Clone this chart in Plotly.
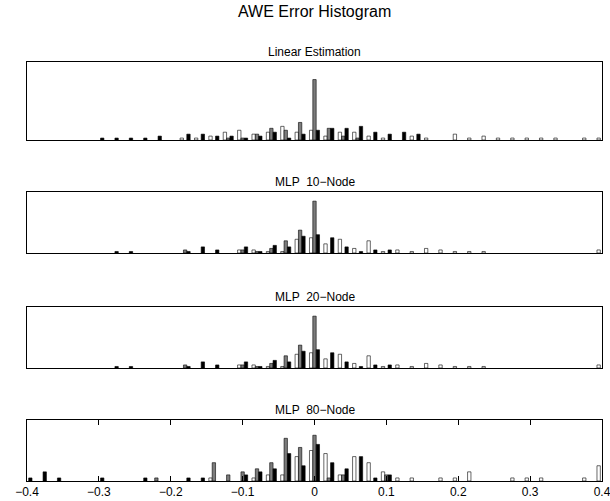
import plotly.graph_objects as go

# bin centres (error value)
bins = [-0.40, -0.38, -0.36, -0.34, -0.32, -0.30, -0.28, -0.26, -0.24, -0.22,
        -0.20, -0.18, -0.16, -0.14, -0.12, -0.10, -0.08, -0.06, -0.04, -0.02,
        0.00, 0.02, 0.04, 0.06, 0.08, 0.10, 0.12, 0.14, 0.16, 0.18,
        0.20, 0.22, 0.24, 0.26, 0.28, 0.30, 0.32, 0.34, 0.36, 0.38, 0.40]

panel_titles = ["Linear Estimation", "MLP  10\u2212Node", "MLP  20\u2212Node", "MLP  80\u2212Node"]
tick_vals = [-0.4, -0.3, -0.2, -0.1, 0, 0.1, 0.2, 0.3, 0.4]
tick_text = ["\u22120.4", "\u22120.3", "\u22120.2", "\u22120.1", "0", "0.1", "0.2", "0.3", "0.4"]

lin_white = [0,0,0,0,0,0,0,0,0,0, 0,1,1,2,4,5,3,4,7,4, 5, 2,4,4,2,1,0,2,1,0,3, 1,2,1,1,1,1,1,0,1,1]
lin_gray  = [0,0,0,0,0,0,0,0,0,0, 0,0,0,0,1,1,3,6,5,9, 31, 6,2,1,0,0,0,0,0,0,0, 0,0,0,0,0,0,0,0,0,0]
lin_black = [0,0,0,0,0,1,1,1,1,2, 0,3,3,2,2,1,2,4,1,3, 5, 6,6,7,4,3,4,3,0,0,0, 0,0,0,0,0,0,0,0,0,0]

m10_white = [0,0,0,0,0,0,0,0,0,0, 0,0,0,0,0,2,2,1,1,9, 10, 6,9,3,8,1,2,1,3,2,1, 1,1,0,0,0,0,0,0,0,2]
m10_gray  = [0,0,0,0,0,0,0,0,0,0, 0,2,0,0,0,2,1,3,8,15, 34, 0,0,0,0,0,0,0,0,0,0, 0,0,0,0,0,0,0,0,0,0]
m10_black = [0,0,0,0,0,0,1,1,0,0, 0,1,4,2,0,4,1,5,4,11, 12, 10,4,1,2,2,0,0,0,0,0, 0,0,0,0,0,0,0,0,0,0]

m20_white = [0,0,0,0,0,0,0,0,0,0, 0,0,0,0,0,2,2,1,1,9, 10, 6,9,3,8,1,2,1,3,2,1, 1,1,0,0,0,0,0,0,0,2]
m20_gray  = [0,0,0,0,0,0,0,0,0,0, 0,2,0,0,0,2,1,3,8,15, 34, 0,0,0,0,0,0,0,0,0,0, 0,0,0,0,0,0,0,0,0,0]
m20_black = [0,0,0,0,0,0,1,1,0,0, 0,1,4,2,0,4,1,5,4,11, 12, 10,4,1,2,2,0,0,0,0,0, 0,0,0,0,0,0,0,0,0,0]

m80_white = [0,0,0,0,0,0,0,0,0,0, 0,0,0,1,0,0,1,2,2,8, 10, 9,2,8,6,3,1,1,0,1,1, 3,0,0,1,1,1,0,0,1,5]
m80_gray  = [0,0,0,0,0,0,0,0,0,1, 0,0,0,6,2,3,4,6,14,11, 15, 1,2,0,0,2,0,0,0,0,0, 0,0,0,0,0,0,0,0,0,0]
m80_black = [1,3,1,0,0,1,0,0,1,0, 0,1,1,0,0,2,3,4,9,5, 12, 6,4,8,1,2,0,0,0,0,0, 0,0,0,0,0,0,0,0,0,0]

y_max = [40, 40, 40, 20]

W, H = 610, 501
x_left, x_right = 27, 602
boxes = [(62, 140), (192, 253), (307, 368), (420, 481)]  # (top, bottom) in px

series = [
    (lin_white, lin_gray, lin_black),
    (m10_white, m10_gray, m10_black),
    (m20_white, m20_gray, m20_black),
    (m80_white, m80_gray, m80_black),
]
fills = ["#ffffff", "#7c7c7c", "#000000"]

fig = go.Figure()
layout = dict(
    width=W, height=H, autosize=False,
    margin=dict(l=0, r=0, t=0, b=0, pad=0, autoexpand=False),
    paper_bgcolor="white", plot_bgcolor="white",
    barmode="group", bargap=0.3, bargroupgap=0.0,
    showlegend=False,
    font=dict(family="Liberation Sans, Arial, sans-serif", color="black"),
)

annotations = [dict(text="AWE Error Histogram", x=(x_left + x_right) / 2 / W, y=1 - 12 / H,
                    xref="paper", yref="paper", showarrow=False,
                    font=dict(size=16), xanchor="center", yanchor="middle")]

for i, (trip, (top, bot)) in enumerate(zip(series, boxes)):
    n = i + 1
    xa = "x" if n == 1 else f"x{n}"
    ya = "y" if n == 1 else f"y{n}"
    for vals, col in zip(trip, fills):
        yv = [v if v else None for v in vals]
        fig.add_trace(go.Bar(x=bins, y=yv, xaxis=xa, yaxis=ya,
                             marker=dict(color=col, line=dict(color="black", width=0.6)),
                             hoverinfo="skip"))
    last = (n == 4)
    xkey = "xaxis" if n == 1 else f"xaxis{n}"
    ykey = "yaxis" if n == 1 else f"yaxis{n}"
    layout[xkey] = dict(
        domain=[x_left / W, x_right / W], anchor=ya, range=[-0.4, 0.4], automargin=False,
        showgrid=False, zeroline=False, showline=True, linecolor="black", linewidth=1,
        mirror="ticks" if last else True,
        ticks="inside" if last else "", ticklen=5, tickcolor="black",
        tickvals=tick_vals if last else [], ticktext=tick_text if last else [],
        showticklabels=last, tickfont=dict(size=12), ticklabeloverflow="allow",
    )
    layout[ykey] = dict(
        domain=[1 - bot / H, 1 - top / H], anchor=xa, range=[0, y_max[i]], automargin=False,
        showgrid=False, zeroline=False, showline=True, linecolor="black", linewidth=1,
        mirror=True, ticks="", showticklabels=False,
    )
    annotations.append(dict(text=panel_titles[i], x=(x_left + x_right) / 2 / W,
                            y=1 - (top - 10) / H, xref="paper", yref="paper",
                            showarrow=False, font=dict(size=12),
                            xanchor="center", yanchor="middle"))

layout["annotations"] = annotations
fig.update_layout(**layout)
fig.write_html("out.html", config={"responsive": False, "displayModeBar": False},
               post_script="document.body.style.margin='0px';document.body.style.overflow='hidden';")
